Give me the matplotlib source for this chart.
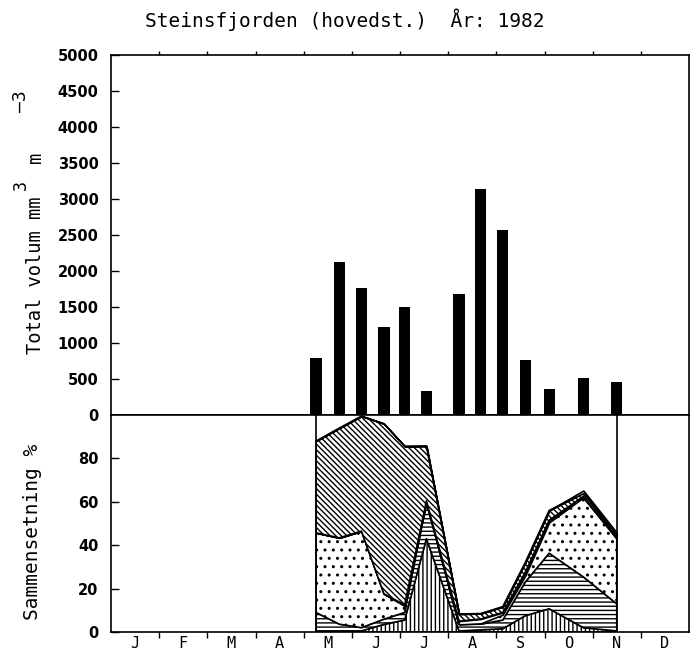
import calendar
import numpy as np
import matplotlib
matplotlib.use('Agg')
from matplotlib import pyplot as plt

# Sampling dates (Steinsfjorden, main station, 1982)
sample_dates = ['1982-05-09', '1982-05-24', '1982-06-07', '1982-06-21',
                '1982-07-04', '1982-07-18', '1982-08-08', '1982-08-22',
                '1982-09-05', '1982-09-19', '1982-10-04', '1982-10-26',
                '1982-11-16']

# Total volume, mm3 m-3
total_volume = [796, 2125, 1768, 1218, 1504, 338, 1681, 3139, 2569,
                764, 366, 518, 454]

# Composition in percent, one list per group (bottom to top)
group_a = [0.5, 0.5, 0.5, 3.5, 5.5, 43.0, 0.5, 1.0, 1.5, 7.5, 10.7, 2.0, 0.5]
group_b = [8.5, 3.1, 1.5, 2.4, 3.5, 17.0, 3.0, 2.6, 4.0, 15.5, 25.6, 23.4, 12.5]
group_c = [36.7, 39.8, 44.5, 11.7, 3.0, 0.0, 0.0, 0.4, 2.5, 3.0, 14.2, 36.6, 30.0]
group_d = [0.0, 0.0, 0.0, 0.0, 0.5, 0.5, 1.5, 2.0, 1.0, 1.5, 1.0, 0.5, 0.5]
group_e = [42.3, 50.6, 53.0, 78.4, 73.1, 25.2, 3.3, 2.5, 2.7, 4.5, 4.5, 1.5, 1.0]
group_f = [0.0, 0.0, 0.0, 0.0, 0.0, 0.0, 0.0, 0.0, 0.0, 0.0, 0.0, 1.2, 1.3]

month_labels = ['J', 'F', 'M', 'A', 'M', 'J', 'J', 'A', 'S', 'O', 'N', 'D']


def month_pos(s):
    """Date string -> position on a 0..12 month axis"""
    y, m, d = map(int, s.split('-'))
    return (m - 1) + (d - 1) / calendar.monthrange(y, m)[1]


x = np.array([month_pos(s) for s in sample_dates])

plt.rcParams['font.family'] = 'DejaVu Sans'
plt.rcParams['hatch.linewidth'] = 1.0

fig = plt.figure(figsize=(7, 6.58), dpi=100)
W, H = 700, 658
left, width = 111 / W, 578 / W
ax1 = fig.add_axes([left, 1 - 415 / H, width, 360 / H])
ax2 = fig.add_axes([left, 1 - 632 / H, width, 217 / H])

tick_font = dict(fontsize=10.5, fontweight='bold')

# --- top: total volume bars
ax1.bar(x, total_volume, width=0.235, color='black')
ax1.set_xlim(0, 12)
ax1.set_ylim(0, 5000)
ax1.set_yticks(np.arange(0, 5001, 500))
ax1.set_yticklabels([str(v) for v in range(0, 5001, 500)], **tick_font)
ax1.set_xticks(np.arange(1, 12))
ax1.tick_params(axis='x', top=True, bottom=False, labelbottom=False,
                direction='out', length=3, width=1)
ax1.tick_params(axis='y', direction='in', length=6, width=1, pad=9)

# --- bottom: composition
layers = [group_a, group_b, group_c, group_d, group_e, group_f]
hatches = ['||||', '----', '..', None, '\\' * 6, None]
base = np.zeros(len(x))
for vals, h in zip(layers, hatches):
    top = base + np.array(vals)
    ax2.fill_between(x, base, top, facecolor='white', edgecolor='black',
                     hatch=h, lw=1.2)
    base = top
ax2.vlines([x[0], x[-1]], 0, 100, color='black', lw=1.2)

ax2.set_xlim(0, 12)
ax2.set_ylim(0, 100)
ax2.set_yticks([0, 20, 40, 60, 80])
ax2.set_yticklabels(['0', '20', '40', '60', '80'], **tick_font)
ax2.tick_params(axis='y', direction='in', length=6, width=1, pad=9)
ax2.set_xticks(np.arange(1, 12))
ax2.tick_params(axis='x', which='major', direction='out', length=4,
                width=1, labelbottom=False)
ax2.set_xticks(np.arange(12) + 0.5, minor=True)
ax2.set_xticklabels(month_labels, minor=True, family='DejaVu Sans Mono',
                    fontsize=11)
ax2.tick_params(axis='x', which='minor', length=0, pad=3)

for ax in (ax1, ax2):
    for sp in ax.spines.values():
        sp.set_linewidth(1.2)

mono = 'DejaVu Sans Mono'
fig.text(145 / W, 1 - 20 / H, 'Steinsfjorden (hovedst.)  År: 1982',
         family=mono, fontsize=14, ha='left', va='center')

# y label of the top panel, with raised exponents
lab = dict(family=mono, rotation=90, ha='center', va='bottom')
fig.text(36 / W, 1 - 354 / H, 'Total volum mm', fontsize=13.5, **lab)
fig.text(21 / W, 1 - 190 / H, '3', fontsize=12, **lab)
fig.text(36 / W, 1 - 163 / H, 'm', fontsize=13.5, **lab)
fig.text(21 / W, 1 - 112 / H, '\u20133', fontsize=13, **lab)

fig.text(33 / W, 1 - 532 / H, 'Sammensetning %', family=mono, fontsize=14,
         rotation=90, ha='center', va='center')

fig.savefig('out.png', dpi=100)
